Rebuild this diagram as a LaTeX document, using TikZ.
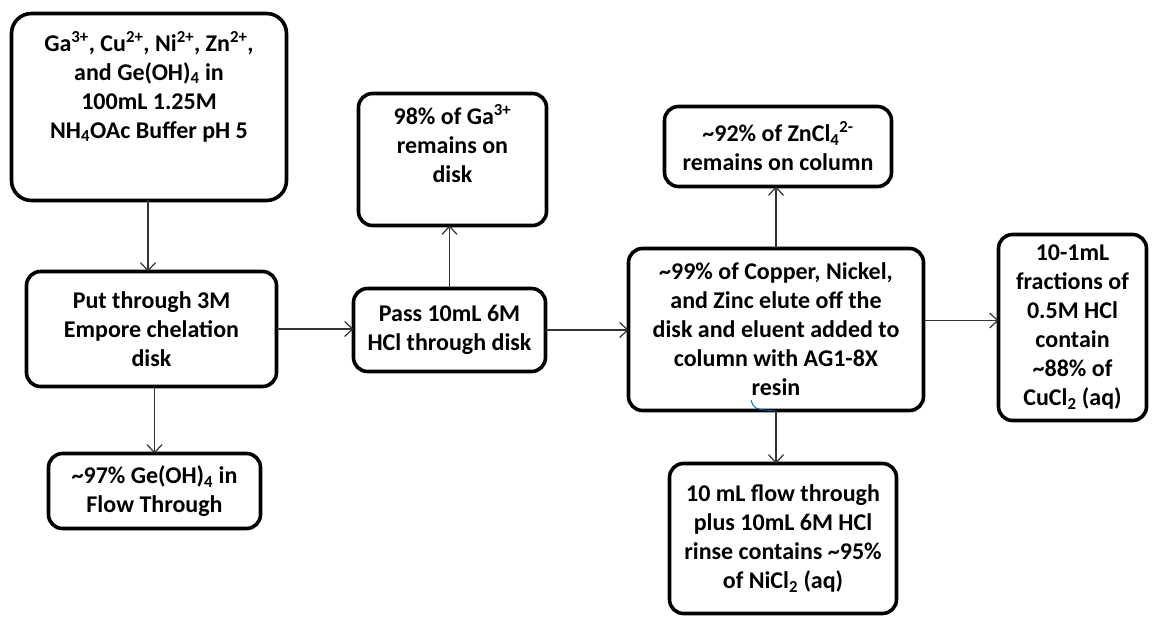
\documentclass[tikz,border=0pt]{standalone}
\usepackage{fontspec}
\setmainfont{Carlito}
\usetikzlibrary{arrows.meta,calc}
\tikzset{
  box/.style={draw=black, line width=3.6pt, rounded corners=14pt, inner sep=0pt, outer sep=0pt,
    align=center, font=\bfseries\fontsize{24}{29}\selectfont, text=black},
  txt/.style={inner sep=0pt, outer sep=0pt, align=center, font=\bfseries\fontsize{24}{29}\selectfont, text=black},
  conn/.style={draw=black!80, line width=1.3pt, -{Straight Barb[length=8pt,width=15pt,line width=1.2pt]}},
}
\newcommand{\tl}{\textasciitilde}
\begin{document}
\begin{tikzpicture}[x=1pt,y=-1pt]
\useasboundingbox[fill=white] (0,0) rectangle (1153,617);
% boxes
\node[box, rounded corners=20pt, minimum width=275pt, minimum height=187pt] (src) at (149,107) {};
\node[txt, anchor=north] (srct) at (149,31) {Ga\textsuperscript{3+}, Cu\textsuperscript{2+}, Ni\textsuperscript{2+}, Zn\textsuperscript{2+},\\and Ge(OH)\textsubscript{4} in\\100mL 1.25M\\NH\textsubscript{4}OAc Buffer pH 5};
\node[box, minimum width=250pt, minimum height=115pt] (put) at (151.5,329) {Put through 3M\\Empore chelation\\disk};
\node[box, minimum width=212pt, minimum height=75pt] (flow) at (154.5,491) {\tl97\% Ge(OH)\textsubscript{4} in\\Flow Through};
\node[box, minimum width=192pt, minimum height=83pt] (pass) at (449.5,330) {Pass 10mL 6M\\HCl through disk};
\node[box, minimum width=188pt, minimum height=132pt] (ga) at (452.5,159.5) {};
\node[txt, anchor=north] (gat) at (452.5,104) {98\% of Ga\textsuperscript{3+}\\remains on\\disk};
\node[box, minimum width=295pt, minimum height=162pt] (big) at (776,329.5) {\tl99\% of Copper, Nickel,\\and Zinc elute off the\\disk and eluent added to\\column with AG1-8X\\resin};
\node[box, minimum width=227pt, minimum height=80pt] (zn) at (778,146.5) {\tl92\% of ZnCl\textsubscript{4}\textsuperscript{2-}\\remains on column};
\node[box, minimum width=148pt, minimum height=186pt] (cu) at (1072.5,327.5) {10-1mL\\fractions of\\0.5M HCl\\contain\\\tl88\% of\\CuCl\textsubscript{2} (aq)};
\node[box, minimum width=227pt, minimum height=150pt] (ni) at (783,538.5) {10 mL flow through\\plus 10mL 6M HCl\\rinse contains \tl95\%\\of NiCl\textsubscript{2} (aq)};
% connectors
\draw[conn] (src.south -| 148,0) -- (put.north -| 148,0);
\draw[conn] (put.south -| flow.north) -- (flow.north);
\draw[conn] (put.east) -- (put.east -| pass.west);
\draw[conn] (pass.north) -- (pass.north |- ga.south);
\draw[conn] (pass.east) -- (pass.east -| big.west);
\draw[conn] (big.north) -- (big.north |- zn.south);
\draw[conn] ([yshift=9pt]big.east) -- ([yshift=9pt]big.east -| cu.west);
\draw[conn] (big.south) -- (big.south |- ni.north);
% stray blue mark
\draw[draw=blue!45!cyan!70!black, line width=0.9pt] (751,400) .. controls (754,409) .. (775,411);
\end{tikzpicture}
\end{document}
